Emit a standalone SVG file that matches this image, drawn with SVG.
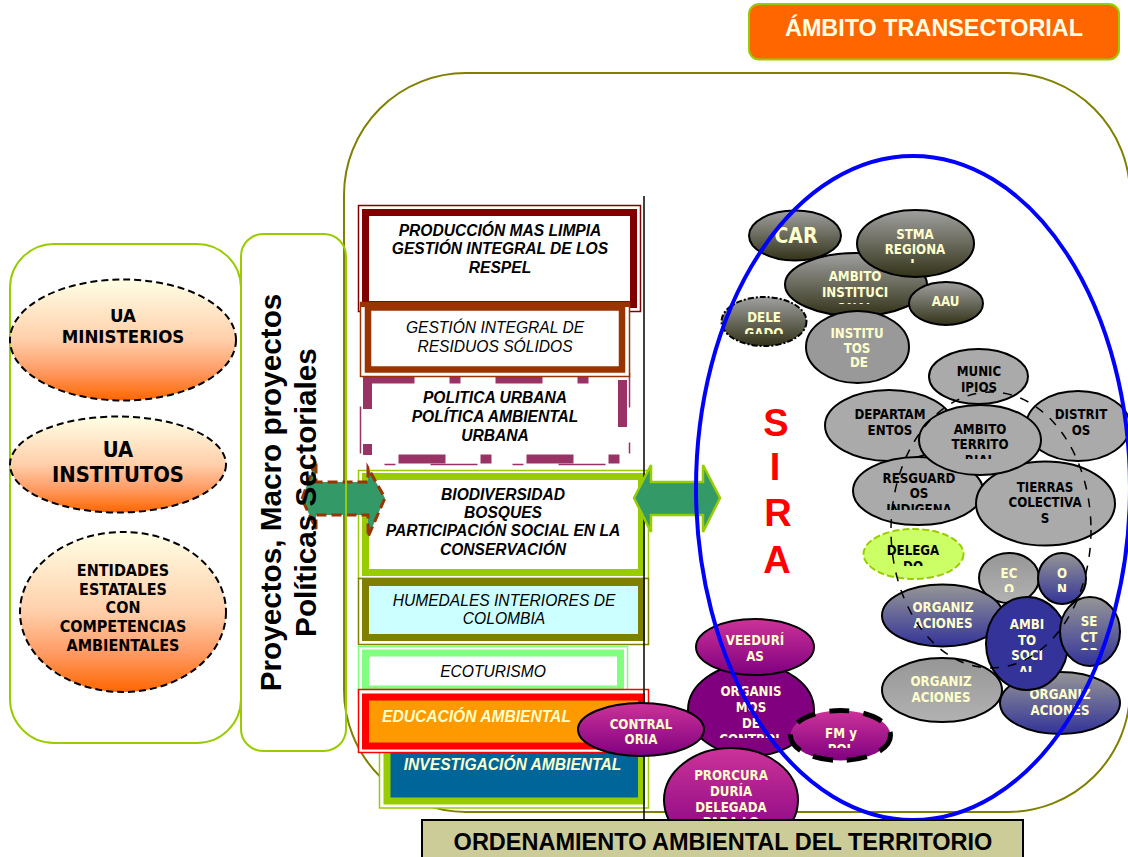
<svg xmlns="http://www.w3.org/2000/svg" width="1128" height="857" viewBox="0 0 1128 857">
<style>
text{font-family:"Liberation Sans",Arial,sans-serif;text-anchor:middle}
.r{font-size:15.6px;font-style:italic;fill:#000}
.b{font-weight:bold}
.n{font-family:"DejaVu Sans",sans-serif;font-stretch:condensed;font-weight:bold;font-size:13.2px;fill:#ffffcc}
.k{fill:#000}
.e{stroke:#000;stroke-width:2}
.f{fill:none}
.d{stroke-dasharray:7 4;stroke:#000;stroke-width:2}
.o{font-size:29.7px;font-weight:bold;fill:#000}
</style>
<defs>
<linearGradient id="gO" x1="0" y1="0" x2="0" y2="1"><stop offset="0" stop-color="#ffffe6"/><stop offset="0.5" stop-color="#ffcfaa"/><stop offset="0.75" stop-color="#ff9c66"/><stop offset="1" stop-color="#ff6600"/></linearGradient>
<linearGradient id="gD" x1="0" y1="0" x2="0" y2="1"><stop offset="0" stop-color="#a0a0a0"/><stop offset="1" stop-color="#333319"/></linearGradient>
<linearGradient id="gG" x1="0" y1="0" x2="0" y2="1"><stop offset="0" stop-color="#969696"/><stop offset="1" stop-color="#b2b2b2"/></linearGradient>
<linearGradient id="gB" x1="0" y1="0" x2="0" y2="1"><stop offset="0" stop-color="#969696"/><stop offset="1" stop-color="#333399"/></linearGradient>
<linearGradient id="gM" x1="0" y1="0" x2="0" y2="1"><stop offset="0" stop-color="#cc3399"/><stop offset="1" stop-color="#800080"/></linearGradient>
<clipPath id="c1"><rect x="785" y="253" width="142" height="51"/></clipPath>
<clipPath id="c2"><rect x="722" y="297" width="85" height="37"/></clipPath>
<clipPath id="c3"><rect x="857" y="210" width="117" height="53"/></clipPath>
<clipPath id="c4"><rect x="919" y="405" width="122" height="54"/></clipPath>
<clipPath id="c5"><rect x="853" y="457" width="130" height="53"/></clipPath>
<clipPath id="c6"><rect x="863" y="529" width="100" height="37"/></clipPath>
<clipPath id="c7"><rect x="979" y="553" width="108" height="39"/></clipPath>
<clipPath id="c8"><rect x="986" y="597" width="82" height="75"/></clipPath>
<clipPath id="c9"><rect x="1060" y="597" width="60" height="53"/></clipPath>
<clipPath id="c10"><rect x="788" y="709" width="105" height="39"/></clipPath>
<clipPath id="c11"><rect x="688" y="664" width="126" height="74"/></clipPath>
<clipPath id="c12"><rect x="806" y="311" width="103" height="57"/></clipPath>
</defs>

<g id="ambito-transectorial">
<rect x="749" y="4" width="370" height="55.500" rx="10" fill="#ff6600" stroke="#99cc00" stroke-width="2"/>
<text x="934" y="36" font-size="23.400" font-weight="bold" fill="#ffffe6">ÁMBITO TRANSECTORIAL</text>
</g>

<g id="marco-transectorial"><rect x="344" y="73" width="786" height="739" rx="122" ry="122" fill="#fff" stroke="#808000" stroke-width="2"/></g>

<g id="caja-produccion">
<rect x="358.500" y="205.500" width="282" height="106" fill="#fff" stroke="#800000" stroke-width="1.500"/>
<rect x="365.500" y="212.500" width="268" height="92" fill="#fff" stroke="#800000" stroke-width="7"/>
<text class="r b" x="500" y="236">PRODUCCIÓN MAS LIMPIA</text>
<text class="r b" x="500" y="254">GESTIÓN INTEGRAL DE LOS</text>
<text class="r b" x="500" y="273">RESPEL</text>
</g>
<g id="caja-politica">
<rect x="360.500" y="373.500" width="269" height="91" fill="#fff" stroke="#993366" stroke-width="1.500" stroke-dasharray="47 35 11 35"/>
<rect x="367.500" y="379" width="255" height="80" fill="#fff" stroke="#993366" stroke-width="9" stroke-dasharray="47 35 11 35"/>
<text class="r b" x="495" y="403">POLITICA URBANA</text>
<text class="r b" x="495" y="422">POLÍTICA AMBIENTAL</text>
<text class="r b" x="495" y="441">URBANA</text>
</g>
<g id="caja-residuos">
<rect x="360.500" y="302.500" width="269" height="74" fill="#fff" stroke="#993300" stroke-width="1.500"/>
<rect x="368" y="307.500" width="254" height="62" fill="#fff" stroke="#993300" stroke-width="6.500"/>
<rect x="360" y="302" width="270" height="5" fill="#993300"/>
<text class="r" x="495" y="333">GESTIÓN INTEGRAL DE</text>
<text class="r" x="495" y="352">RESIDUOS SÓLIDOS</text>
</g>
<g id="caja-biodiversidad">
<rect x="358.500" y="470.500" width="290" height="108" fill="#fff" stroke="#99cc00" stroke-width="1.500"/>
<rect x="365.500" y="476.500" width="276" height="96" fill="#fff" stroke="#99cc00" stroke-width="7"/>
<text class="r b" x="503" y="500">BIODIVERSIDAD</text>
<text class="r b" x="503" y="518">BOSQUES</text>
<text class="r b" x="503" y="536">PARTICIPACIÓN SOCIAL EN LA</text>
<text class="r b" x="503" y="555">CONSERVACIÓN</text>
</g>
<g id="caja-humedales">
<rect x="358.500" y="578.500" width="290" height="66" fill="#fff" stroke="#808000" stroke-width="1.500"/>
<rect x="365.500" y="582.500" width="276" height="55" fill="#ccffff" stroke="#808000" stroke-width="7"/>
<text class="r" x="504" y="606">HUMEDALES INTERIORES DE</text>
<text class="r" x="504" y="624">COLOMBIA</text>
</g>
<g id="caja-ecoturismo">
<rect x="358.500" y="646.500" width="269" height="50" fill="#fff" stroke="#80ff80" stroke-width="1.500"/>
<rect x="365.500" y="653" width="255" height="36" fill="#fff" stroke="#80ff80" stroke-width="7"/>
<text class="r" x="493" y="677">ECOTURISMO</text>
</g>
<g id="caja-investigacion">
<rect x="379.500" y="740" width="269" height="68" fill="#fff" stroke="#99cc00" stroke-width="1.500"/>
<rect x="387" y="745" width="254.500" height="56" fill="#006699" stroke="#99cc00" stroke-width="7"/>
<text class="r b" x="512.500" y="770" style="fill:#ffffcc">INVESTIGACIÓN AMBIENTAL</text>
</g>
<g id="caja-educacion">
<rect x="358.500" y="689.500" width="290" height="63" fill="#fff" stroke="#ff0000" stroke-width="1.500"/>
<rect x="365.500" y="697" width="276" height="49" fill="#ff9900" stroke="#ff0000" stroke-width="7"/>
<text class="r b" x="476.500" y="722" style="fill:#ffffcc">EDUCACIÓN AMBIENTAL</text>
</g>

<g id="conectores">
<line x1="644" y1="196" x2="644" y2="820" stroke="#000" stroke-width="1.500"/>
<path d="M302 499L316 460V482H368V468L385 498L368 537V515H316V529Z" fill="#339966" stroke="#993300" stroke-width="3" stroke-dasharray="10 5"/>
<path d="M634 498L651 465V482H703V465L720 498L703 532V515H651V532Z" fill="#339966" stroke="#99cc00" stroke-width="2.500"/>
</g>

<g id="caja-unidades"><rect x="10" y="244" width="231" height="499" rx="44" fill="#fff" stroke="#99cc00" stroke-width="2"/></g>
<g id="ua-ministerios">
<ellipse class="d" cx="123" cy="340" rx="113" ry="60.500" fill="url(#gO)"/>
<text class="n k" x="123" y="322" style="font-size:18.500px">UA</text>
<text class="n k" x="123" y="343" style="font-size:18.500px">MINISTERIOS</text>
</g>
<g id="ua-institutos">
<ellipse class="d" cx="118" cy="464.500" rx="108" ry="48" fill="url(#gO)"/>
<text class="n k" x="118" y="457" style="font-size:21.800px">UA</text>
<text class="n k" x="118" y="482" style="font-size:21.800px">INSTITUTOS</text>
</g>
<g id="entidades-estatales">
<ellipse class="d" cx="123" cy="612" rx="103" ry="80" fill="url(#gO)"/>
<text class="n k" x="123" y="576" style="font-size:16px">ENTIDADES</text>
<text class="n k" x="123" y="595" style="font-size:16px">ESTATALES</text>
<text class="n k" x="123" y="613" style="font-size:16px">CON</text>
<text class="n k" x="123" y="632" style="font-size:16px">COMPETENCIAS</text>
<text class="n k" x="123" y="651" style="font-size:16px">AMBIENTALES</text>
</g>
<g id="proyectos">
<rect x="241" y="234" width="105" height="517" rx="22" fill="none" stroke="#99cc00" stroke-width="2"/>
<text class="o" transform="translate(281 492.500) rotate(-90)">Proyectos, Macro proyectos</text>
<text class="o" transform="translate(316 492.500) rotate(-90)">Políticas Sectoriales</text>
</g>

<g id="sira" font-weight="bold" font-size="38">
<text x="776" y="436" fill="#ff0000">S</text><text x="775" y="480" fill="#ff0000">I</text><text x="778" y="526" fill="#ff0000">R</text><text x="777" y="573" fill="#ff0000">A</text>
</g>

<g id="car"><ellipse class="e" cx="795" cy="235.500" rx="46" ry="25" fill="url(#gD)"/><text class="n" x="796" y="243" style="font-size:21px">CAR</text></g>
<g id="ambito-institucional"><ellipse class="e" cx="856" cy="284.500" rx="71" ry="31.500" fill="url(#gD)"/>
<g clip-path="url(#c1)"><text class="n" x="855" y="281">AMBITO</text><text class="n" x="855" y="297">INSTITUCI</text><text class="n" x="855" y="313">ONAL</text></g></g>
<g id="stma-regional"><ellipse class="e" cx="915.500" cy="243.500" rx="58.500" ry="33.500" fill="url(#gD)"/>
<g clip-path="url(#c3)"><text class="n" x="915" y="239">STMA</text><text class="n" x="915" y="254">REGIONA</text><text class="n" x="914" y="269">L</text></g></g>
<g id="aau"><ellipse class="e" cx="946" cy="303.500" rx="37" ry="21.500" fill="url(#gD)"/><text class="n" x="945.500" y="306">AAU</text></g>
<g id="delegado-institucional"><ellipse cx="764" cy="321.500" rx="42.500" ry="24.500" fill="url(#gD)" stroke="#000" stroke-width="2" stroke-dasharray="6 2 2 2"/>
<g clip-path="url(#c2)"><text class="n" x="764" y="322">DELE</text><text class="n" x="764" y="338">GADO</text></g></g>
<g id="institutos"><ellipse class="e" cx="857.500" cy="347" rx="51.500" ry="36" fill="#999999"/>
<g clip-path="url(#c12)"><text class="n" x="857" y="338">INSTITU</text><text class="n" x="857" y="353">TOS</text><text class="n" x="859" y="367">DE</text></g></g>

<g id="municipios"><ellipse class="e" cx="978.500" cy="376.500" rx="49.500" ry="27.500" fill="#aaaaaa"/><text class="n k" x="979" y="376">MUNIC</text><text class="n k" x="979" y="392">IPIOS</text></g>
<g id="departamentos"><ellipse class="e" cx="889" cy="425.500" rx="64" ry="35.500" fill="#aaaaaa"/><text class="n k" x="890" y="419">DEPARTAM</text><text class="n k" x="890" y="435">ENTOS</text></g>
<g id="distritos"><ellipse class="e" cx="1078" cy="426" rx="52" ry="35" fill="#aaaaaa"/><text class="n k" x="1081" y="419">DISTRIT</text><text class="n k" x="1081" y="435">OS</text></g>
<g id="resguardos"><ellipse class="e" cx="918" cy="491" rx="65" ry="34" fill="#aaaaaa"/>
<g clip-path="url(#c5)"><text class="n k" x="919" y="483">RESGUARD</text><text class="n k" x="919" y="498">OS</text><text class="n k" x="919" y="514">INDIGENA</text></g></g>
<g id="tierras-colectivas"><ellipse class="e" cx="1045.500" cy="503.500" rx="69.500" ry="42" fill="#aaaaaa"/><text class="n k" x="1045" y="492">TIERRAS</text><text class="n k" x="1045" y="507">COLECTIVA</text><text class="n k" x="1045" y="523">S</text></g>
<g id="ambito-territorial"><ellipse class="e" cx="980" cy="440" rx="61" ry="35" fill="#aaaaaa"/>
<g clip-path="url(#c4)"><text class="n k" x="980" y="434">AMBITO</text><text class="n k" x="980" y="449">TERRITO</text><text class="n k" x="980" y="465">RIAL</text></g></g>

<g id="delegado-territorial"><ellipse cx="913.500" cy="554" rx="50" ry="25" fill="#ccff66" stroke="#99cc00" stroke-width="2" stroke-dasharray="7 3"/>
<g clip-path="url(#c6)"><text class="n k" x="913" y="555">DELEGA</text><text class="n k" x="913" y="571">DO</text></g></g>
<g id="eco"><ellipse class="e" cx="1009" cy="578" rx="30" ry="25" fill="url(#gG)"/>
<g clip-path="url(#c7)"><text class="n" x="1009" y="578">EC</text><text class="n" x="1009" y="594">O</text></g></g>
<g id="on"><ellipse class="e" cx="1062" cy="578.500" rx="24" ry="25.500" fill="url(#gB)"/>
<g clip-path="url(#c7)"><text class="n" x="1062" y="578">O</text><text class="n" x="1062" y="594">N</text></g></g>
<g id="organizaciones-1"><ellipse class="e" cx="942.500" cy="615.500" rx="60.500" ry="31" fill="url(#gB)"/><text class="n" x="943" y="612">ORGANIZ</text><text class="n" x="943" y="628">ACIONES</text></g>
<g id="organizaciones-2"><ellipse class="e" cx="942" cy="690" rx="60" ry="32" fill="url(#gG)"/><text class="n" x="941" y="686">ORGANIZ</text><text class="n" x="941" y="702">ACIONES</text></g>
<g id="organizaciones-3"><ellipse class="e" cx="1060" cy="703" rx="60" ry="31" fill="url(#gB)"/><text class="n" x="1060" y="699">ORGANIZ</text><text class="n" x="1060" y="715">ACIONES</text></g>
<g id="ambito-social"><ellipse class="e" cx="1027" cy="643.500" rx="41" ry="46.500" fill="#333399"/>
<g clip-path="url(#c8)"><text class="n" x="1027" y="629">AMBI</text><text class="n" x="1027" y="645">TO</text><text class="n" x="1027" y="660">SOCI</text><text class="n" x="1027" y="676">AL</text></g></g>
<g id="sector"><ellipse class="e" cx="1090" cy="631.500" rx="30" ry="34.500" fill="url(#gB)"/>
<g clip-path="url(#c9)"><text class="n" x="1089" y="626">SE</text><text class="n" x="1089" y="642">CT</text><text class="n" x="1089" y="658">OR</text></g></g>

<g id="organismos-control"><ellipse class="e" cx="751" cy="710" rx="63" ry="46" fill="#800080"/>
<g clip-path="url(#c11)"><text class="n" x="751" y="696">ORGANIS</text><text class="n" x="751" y="712">MOS</text><text class="n" x="751" y="728">DE</text><text class="n" x="751" y="744">CONTROL</text></g></g>
<g id="veeduria"><ellipse class="e" cx="755" cy="647" rx="59" ry="28" fill="url(#gM)"/><text class="n" x="755" y="645">VEEDURÍ</text><text class="n" x="755" y="661">AS</text></g>
<g id="procuraduria"><ellipse class="e" cx="731" cy="800" rx="67" ry="52" fill="url(#gM)"/><text class="n" x="731" y="780">PRORCURA</text><text class="n" x="731" y="796">DURÍA</text><text class="n" x="731" y="812">DELEGADA</text><text class="n" x="731" y="827">PARA LO</text></g>
<g id="contraloria"><ellipse class="e" cx="641" cy="729.500" rx="63" ry="26.500" fill="url(#gM)"/><text class="n" x="641" y="729">CONTRAL</text><text class="n" x="641" y="744">ORIA</text></g>
<g id="fm-pol"><ellipse cx="840.500" cy="735.500" rx="50" ry="25" fill="url(#gM)" stroke="#000" stroke-width="5" stroke-dasharray="20 14"/>
<g clip-path="url(#c10)"><text class="n" x="841" y="738">FM y</text><text class="n" x="841" y="754">POL</text></g></g>

<g id="ambito-punteado"><ellipse cx="991" cy="530" rx="100" ry="138" fill="none" stroke="#000" stroke-width="1.500" stroke-dasharray="9 9"/></g>
<g id="sira-elipse"><ellipse cx="913" cy="488" rx="217" ry="332" fill="none" stroke="#0000ff" stroke-width="4"/></g>

<g id="ordenamiento">
<rect x="422" y="820" width="601" height="38" fill="#cccc99" stroke="#000" stroke-width="2"/>
<text x="723" y="850" font-size="23.500" font-weight="bold" fill="#000">ORDENAMIENTO AMBIENTAL DEL TERRITORIO</text>
</g>
</svg>
